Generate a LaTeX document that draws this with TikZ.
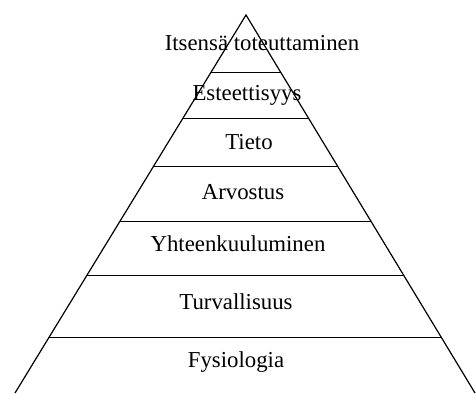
\documentclass[tikz,border=0pt]{standalone}
\usepackage{fontspec}
\setmainfont{Liberation Serif}
\usetikzlibrary{calc}
\tikzset{
  side/.style={draw=black,line width=0.6pt},
  layer/.style={draw=black,line width=0.5pt},
  tier/.style={font=\fontsize{11.4}{13}\selectfont,inner sep=0pt,anchor=base},
}
\begin{document}
\begin{tikzpicture}[x=0.5pt,y=-0.5pt]
\useasboundingbox (0,0) rectangle (476,394);

\coordinate (apex) at (246,15);
\coordinate (bl)   at (15,393);
\coordinate (br)   at (475,393);

\draw[side] (bl) -- (apex) -- (br);

% layer boundaries
\foreach \t [count=\i] in {0.151,0.273,0.402,0.545,0.688,0.852}{
  \coordinate (L\i) at ($(apex)!\t!(bl)$);
  \coordinate (R\i) at ($(apex)!\t!(br)$);
  \draw[layer] (L\i) -- (R\i);
}

\node[tier] (self)   at (262,51)  {Itsensä toteuttaminen};
\node[tier] (aesth)  at (247,101) {Esteettisyys};
\node[tier] (know)   at (249,150) {Tieto};
\node[tier] (esteem) at (243,200) {Arvostus};
\node[tier] (belong) at (238,252) {Yhteenkuuluminen};
\node[tier] (safety) at (236,310) {Turvallisuus};
\node[tier] (phys)   at (236,368) {Fysiologia};

\end{tikzpicture}
\end{document}
